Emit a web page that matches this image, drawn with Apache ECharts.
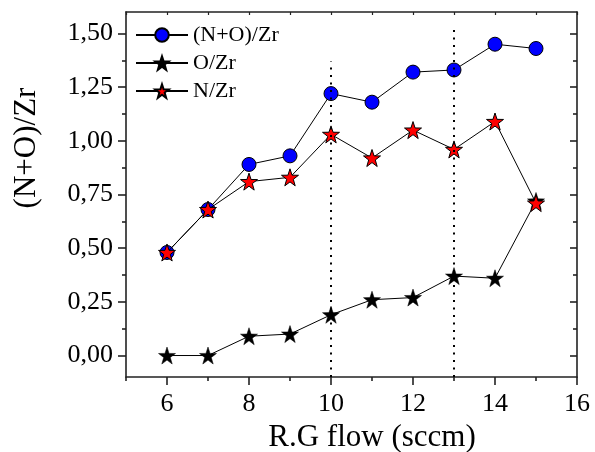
<!DOCTYPE html>
<html>
<head>
<meta charset="utf-8">
<script src="https://cdn.jsdelivr.net/npm/echarts@6/dist/echarts.min.js"></script>
<style>
  html, body { margin: 0; padding: 0; background: #fff; }
  #chart { width: 595px; height: 452px; }
</style>
</head>
<body>
<div id="chart"></div>
<script>
// R.G flow (sccm)
const flow = [6, 7, 8, 9, 10, 11, 12, 13, 14, 15]
const noZr = [0.48, 0.68, 0.89, 0.93, 1.22, 1.18, 1.32, 1.33, 1.45, 1.43]
const oZr = [0.00, 0.00, 0.09, 0.10, 0.19, 0.26, 0.27, 0.37, 0.36, 0.72]
const nZr = [0.48, 0.68, 0.81, 0.83, 1.03, 0.92, 1.05, 0.96, 1.09, 0.71]

// dotted guide lines (x position, top value)
const guideX = [10, 13]
const guideTop = [1.37, 1.53]

const xMajor = [6, 8, 10, 12, 14, 16]
const xMinor = [5, 7, 9, 11, 13, 15]
const yMajor = [0, 0.25, 0.5, 0.75, 1, 1.25, 1.5]
const yMinor = [0.125, 0.375, 0.625, 0.875, 1.125, 1.375]

const FONT = 'Liberation Serif'
const STAR = 'path://M50,2 L61.5,36 L97.5,36.5 L68.5,58 L79,93 L50,72 L21,93 L31.5,58 L2.5,36.5 L38.5,36 Z'
const axisColor = '#222'

const pairs = ys => flow.map((x, i) => [x, ys[i]])

const chart = echarts.init(document.getElementById('chart'), null, { renderer: 'canvas' })

const baseX = { type: 'value', min: 5, max: 16, splitLine: { show: false } }
const baseY = { type: 'value', min: -0.1, max: 1.6, splitLine: { show: false } }
const line = { lineStyle: { color: axisColor, width: 1.6 } }

chart.setOption({
  animation: false,
  textStyle: { fontFamily: FONT },
  grid: { left: 126, right: 18, top: 12, bottom: 75, outerBoundsMode: 'none', containLabel: false },
  legend: {
    left: 135,
    top: 24,
    padding: 0,
    orient: 'vertical',
    itemWidth: 52,
    itemHeight: 17,
    itemGap: 6,
    textStyle: { fontFamily: FONT, fontSize: 22, color: '#000' },
    data: ['(N+O)/Zr', 'O/Zr', 'N/Zr']
  },
  xAxis: [
    {
      ...baseX,
      position: 'bottom',
      axisLine: { ...line, onZero: false },
      axisTick: { customValues: xMajor, length: 8, lineStyle: { color: axisColor, width: 1.6 } },
      axisLabel: { customValues: xMajor, fontFamily: FONT, fontSize: 26, color: '#000', margin: 14 },
      name: 'R.G flow (sccm)',
      nameLocation: 'middle',
      nameGap: 42,
      nameTextStyle: { fontFamily: FONT, fontSize: 31, color: '#000', padding: [0, 0, 0, 41] }
    },
    {
      ...baseX,
      position: 'bottom',
      axisLine: { show: false, onZero: false },
      axisTick: { customValues: xMinor, length: 4, lineStyle: { color: axisColor, width: 1.6 } },
      axisLabel: { show: false }
    },
    {
      ...baseX,
      position: 'top',
      interval: 1,
      axisLine: { ...line, onZero: false },
      axisTick: { inside: true, length: 3, lineStyle: { color: axisColor, width: 1.2 } },
      axisLabel: { show: false }
    }
  ],
  yAxis: [
    {
      ...baseY,
      position: 'left',
      axisLine: { ...line, onZero: false },
      axisTick: { customValues: yMajor, length: 8, lineStyle: { color: axisColor, width: 1.6 } },
      axisLabel: {
        customValues: yMajor,
        fontFamily: FONT, fontSize: 26, color: '#000', margin: 13,
        formatter: v => v.toFixed(2).replace('.', ',')
      }
    },
    {
      ...baseY,
      position: 'left',
      axisLine: { show: false, onZero: false },
      axisTick: { customValues: yMinor, length: 4, lineStyle: { color: axisColor, width: 1.6 } },
      axisLabel: { show: false }
    },
    {
      ...baseY,
      position: 'right',
      axisLine: { ...line, onZero: false },
      axisTick: { customValues: yMajor, inside: true, length: 7, lineStyle: { color: axisColor, width: 1.6 } },
      axisLabel: { show: false }
    },
    {
      ...baseY,
      position: 'right',
      axisLine: { show: false, onZero: false },
      axisTick: { customValues: yMinor, inside: true, length: 4, lineStyle: { color: axisColor, width: 1.6 } },
      axisLabel: { show: false }
    }
  ],
  graphic: [{
    type: 'text',
    x: 27,
    y: 148,
    rotation: Math.PI / 2,
    style: {
      text: '(N+O)/Zr',
      fontFamily: FONT,
      fontSize: 31,
      fill: '#000',
      align: 'center',
      verticalAlign: 'middle'
    }
  }],
  series: [
    {
      name: '(N+O)/Zr',
      type: 'line',
      data: pairs(noZr),
      symbol: 'circle',
      symbolSize: 14,
      lineStyle: { color: '#000', width: 1 },
      itemStyle: { color: '#0000ff', borderColor: '#000', borderWidth: 1 },
      markLine: {
        silent: true,
        symbol: 'none',
        label: { show: false },
        lineStyle: { color: '#000', width: 2, type: [2, 5.5] },
        data: guideX.map((x, i) => [{ coord: [x, -0.1] }, { coord: [x, guideTop[i]] }])
      },
      z: 2
    },
    {
      name: 'O/Zr',
      type: 'line',
      data: pairs(oZr),
      symbol: STAR,
      symbolSize: 17,
      lineStyle: { color: '#000', width: 1 },
      itemStyle: { color: '#000', borderColor: '#000', borderWidth: 0.5 },
      z: 3
    },
    {
      name: 'N/Zr',
      type: 'line',
      data: pairs(nZr),
      symbol: STAR,
      symbolSize: 17,
      lineStyle: { color: '#000', width: 1 },
      itemStyle: { color: '#ff0000', borderColor: '#000', borderWidth: 1 },
      z: 4
    }
  ]
})
</script>
</body>
</html>
